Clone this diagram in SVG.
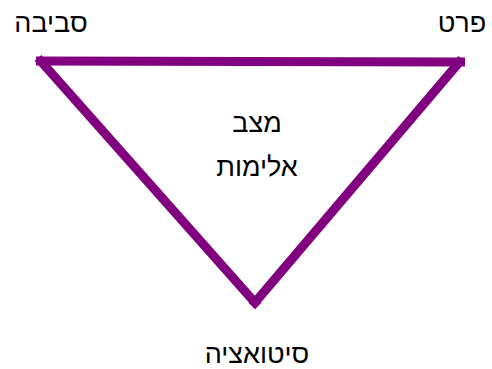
<svg xmlns="http://www.w3.org/2000/svg" width="492" height="369" viewBox="0 0 492 369">
<style>
.t{font-family:"Liberation Sans","DejaVu Sans",sans-serif;font-size:27px;fill:#000;text-anchor:middle;direction:rtl}
.e{stroke:#800080;stroke-width:9;fill:none;stroke-linecap:butt}
</style>
<rect width="492" height="369" fill="#fff"/>
<g id="connectors">
<line class="e" x1="36" y1="61" x2="465" y2="62"/>
<line class="e" x1="38" y1="58" x2="258" y2="306"/>
<line class="e" x1="462" y1="59" x2="252" y2="306"/>
</g>
<g id="n1"><text class="t" x="51" y="32">סביבה</text></g>
<g id="n2"><text class="t" x="462" y="32">פרט</text></g>
<g id="n3"><text class="t" x="257" y="132">מצב</text><text class="t" x="257" y="176">אלימות</text></g>
<g id="n4"><text class="t" x="257" y="363">סיטואציה</text></g>
</svg>
